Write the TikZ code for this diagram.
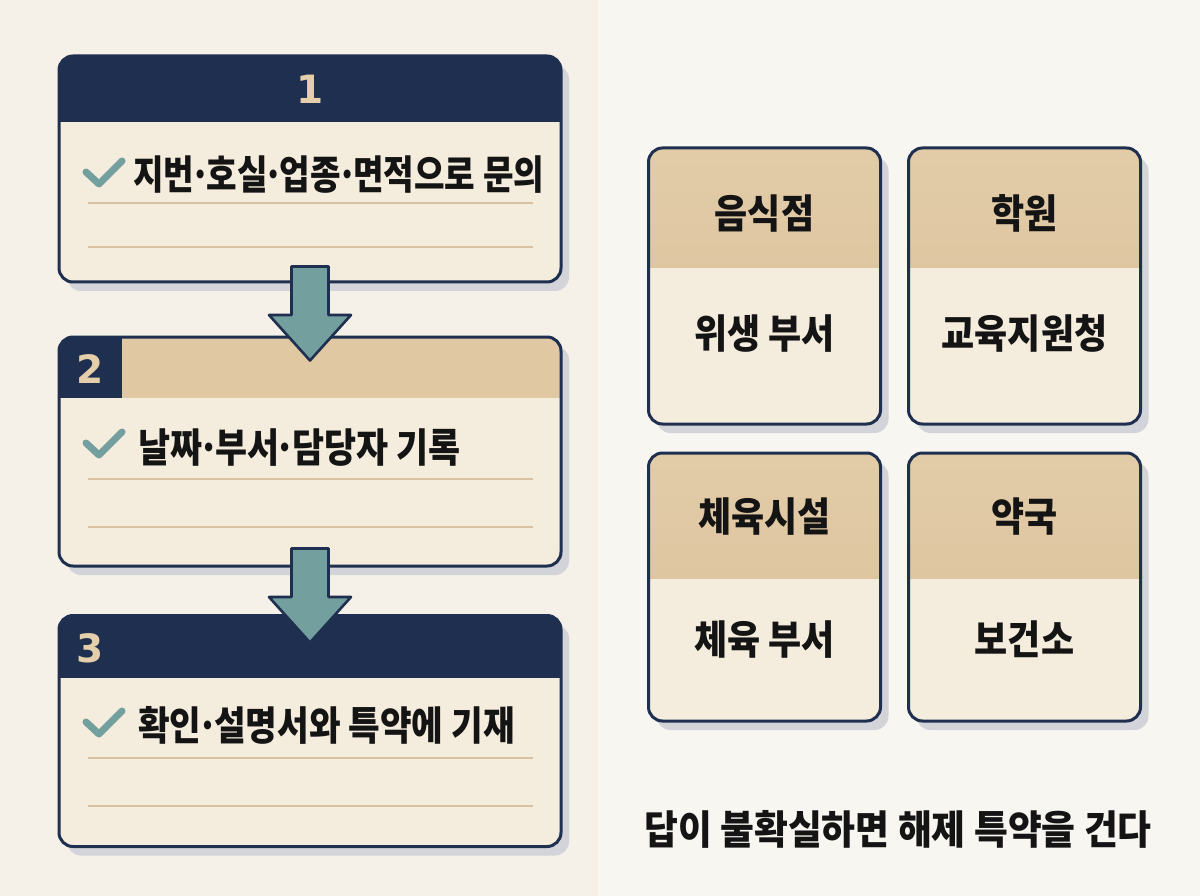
\documentclass[tikz,border=0pt]{standalone}
\usepackage{fontspec}
\usepackage{graphicx}
\newfontfamily\kr{Noto Sans CJK KR}
\newfontfamily\numf{DejaVu Sans}
\newcommand\mdot{\kern-0.12em·\kern-0.12em}
\usetikzlibrary{shadows,calc}
\definecolor{navy}{HTML}{1F2F50}
\definecolor{tanc}{HTML}{E0C8A2}
\definecolor{tantop}{HTML}{E2CCA8}
\definecolor{tanbot}{HTML}{D9BF98}
\definecolor{cream}{HTML}{F4ECDC}
\definecolor{rulec}{HTML}{D8C2A2}
\definecolor{tealc}{HTML}{73A09E}
\definecolor{shadowc}{HTML}{D3D4DA}
\definecolor{bgleft}{HTML}{F5F0E8}
\definecolor{bgright}{HTML}{F7F6F1}
\definecolor{ink}{HTML}{141414}
\definecolor{numc}{HTML}{E5CFAA}
\begin{document}
\begin{tikzpicture}[x=1pt,y=-1pt,
  card/.style={draw=navy, line width=3pt, rounded corners=14pt, fill=cream, inner sep=0pt,
    general shadow={fill=shadowc, shadow xshift=8pt, shadow yshift=-9pt}},
  navyhead/.style={path picture={\fill[navy, sharp corners] (path picture bounding box.north west) rectangle ($(path picture bounding box.north east)+(0,#1)$);}},
  tanhead/.style={path picture={\shade[top color=tantop, bottom color=tanbot, sharp corners] (path picture bounding box.north west) rectangle ($(path picture bounding box.north east)+(0,#1)$);}},
  splithead/.style={path picture={\fill[tanc, sharp corners] (path picture bounding box.north west) rectangle ($(path picture bounding box.north east)+(0,#1)$);
     \fill[navy, sharp corners] (path picture bounding box.north west) rectangle ($(path picture bounding box.north west)+(63,#1)$);}},
  numtxt/.style={font=\numf\bfseries\fontsize{39}{42}\selectfont, text=numc, inner sep=0pt, anchor=base},
  steptxt/.style={font=\kr\bfseries\fontsize{40}{44}\selectfont, text=ink, inner sep=0pt, anchor=base west},
  rtxt/.style={font=\kr\bfseries\fontsize{40}{44}\selectfont, text=ink, inner sep=0pt, anchor=base},
  notetxt/.style={font=\kr\bfseries\fontsize{40}{44}\selectfont, text=ink, inner sep=0pt, anchor=base},
  rulest/.style={draw=rulec, line width=1.8pt},
  checkmark/.pic={\draw[tealc, line width=7pt, line cap=round, line join=round] (-18,-3) -- (-5,9) -- (18,-14);},
  downarrow/.pic={\draw[navy, fill=tealc, line width=2.6pt, line join=round]
     (-18.5,0) -- (-18.5,48.5) -- (-41,48.5) -- (0,94) -- (41,48.5) -- (18.5,48.5) -- (18.5,0) -- cycle;}
]
\useasboundingbox (0,0) rectangle (1200,896);
\fill[bgleft] (0,0) rectangle (598,896);
\fill[bgright] (598,0) rectangle (1200,896);

% step cards
\node[card, navyhead=66, minimum width=502pt, minimum height=226pt] (c1) at (310,169) {};
\node[card, splithead=61, minimum width=502pt, minimum height=229pt] (c2) at (310,451.5) {};
\node[card, navyhead=62, minimum width=502pt, minimum height=231pt] (c3) at (310,731) {};

\node[numtxt] (n1) at (310,104) {1};
\node[numtxt] (n2) at (90.5,383) {2};
\node[numtxt] (n3) at (90.5,662) {3};

\path (104,175) pic {checkmark};
\node[steptxt] (t1) at (133,190) {\scalebox{0.83}[1]{지번\mdot 호실\mdot 업종\mdot 면적으로 문의}};
\draw[rulest] (88,203) -- (533,203);
\draw[rulest] (88,247) -- (533,247);

\path (104,446) pic {checkmark};
\node[steptxt] (t2) at (138,462) {\scalebox{0.87}[1]{날짜\mdot 부서\mdot 담당자 기록}};
\draw[rulest] (88,479) -- (533,479);
\draw[rulest] (88,527) -- (533,527);

\path (104,725) pic {checkmark};
\node[steptxt] (t3) at (138,740) {\scalebox{0.86}[1]{확인\mdot 설명서와 특약에 기재}};
\draw[rulest] (88,758) -- (533,758);
\draw[rulest] (88,806) -- (533,806);

% arrows
\path (c1.south) ++(0,-17) pic {downarrow};
\path (c2.south) ++(0,-19) pic {downarrow};

% right cards
\node[card, tanhead=120, minimum width=232pt, minimum height=276pt] (r1) at (764.5,286) {};
\node[card, tanhead=120, minimum width=232pt, minimum height=276pt] (r2) at (1024.5,286) {};
\node[card, tanhead=125, minimum width=232pt, minimum height=268pt] (r3) at (764.5,587) {};
\node[card, tanhead=125, minimum width=232pt, minimum height=268pt] (r4) at (1024.5,587) {};

\node[rtxt] (r1h) at (764.5,228.5) {\scalebox{0.9}[1]{음식점}};
\node[rtxt] (r1b) at (764.5,348) {\scalebox{0.9}[1]{위생 부서}};
\node[rtxt] (r2h) at (1024.5,228.5) {\scalebox{0.9}[1]{학원}};
\node[rtxt] (r2b) at (1024.5,348) {\scalebox{0.9}[1]{교육지원청}};
\node[rtxt] (r3h) at (764.5,531.5) {\scalebox{0.9}[1]{체육시설}};
\node[rtxt] (r3b) at (764.5,654.5) {\scalebox{0.9}[1]{체육 부서}};
\node[rtxt] (r4h) at (1024.5,531.5) {\scalebox{0.9}[1]{약국}};
\node[rtxt] (r4b) at (1024.5,654.5) {\scalebox{0.9}[1]{보건소}};

\node[notetxt] (note) at (898,844) {\scalebox{0.92}[1]{답이 불확실하면 해제 특약을 건다}};
\end{tikzpicture}
\end{document}
